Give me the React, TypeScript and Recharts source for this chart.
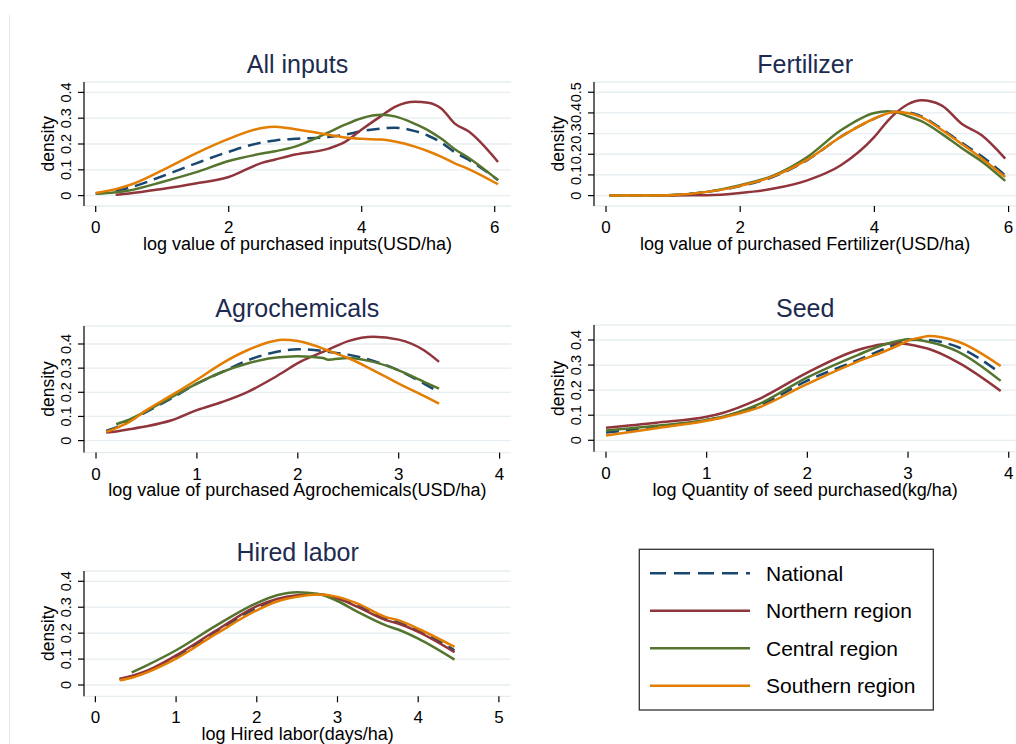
import React from 'react';
import { LineChart, Line, XAxis, YAxis, CartesianGrid } from 'recharts';

const FONT = '"Liberation Sans", Arial, Helvetica, sans-serif';

const seriesNames = ['National', 'Northern region', 'Central region', 'Southern region'];
const seriesColors = ['#1a476f', '#90353b', '#55752f', '#e37e00'];

// ---- All inputs ----
const allX = [0, 0.3, 0.5, 1, 1.5, 2, 2.5, 2.7, 3, 3.5, 3.75, 4, 4.3, 4.5, 4.8, 5, 5.2, 5.4, 5.6, 6.05];
const allNational = [0.008, 0.018, 0.03, 0.075, 0.124, 0.17, 0.206, 0.214, 0.22, 0.227, 0.236, 0.25, 0.26, 0.263, 0.25, 0.232, 0.205, 0.168, 0.14, 0.06];
const allNorthern = [null, 0.003, 0.008, 0.026, 0.047, 0.072, 0.127, 0.14, 0.159, 0.182, 0.208, 0.256, 0.31, 0.344, 0.364, 0.36, 0.337, 0.279, 0.25, 0.13];
const allCentral = [0.007, 0.013, 0.02, 0.053, 0.09, 0.134, 0.163, 0.172, 0.19, 0.245, 0.275, 0.3, 0.313, 0.307, 0.278, 0.253, 0.22, 0.18, 0.148, 0.06];
const allSouthern = [0.01, 0.025, 0.04, 0.098, 0.163, 0.22, 0.262, 0.267, 0.257, 0.236, 0.225, 0.22, 0.217, 0.21, 0.19, 0.172, 0.15, 0.125, 0.104, 0.044];

// ---- Fertilizer ----
const fertX = [0.05, 0.5, 0.8, 1, 1.5, 2, 2.5, 3, 3.5, 4, 4.2, 4.3, 4.5, 4.7, 5, 5.3, 5.6, 5.95];
const fertNational = [0, 0, 0.001, 0.003, 0.018, 0.046, 0.092, 0.172, 0.285, 0.372, 0.398, 0.404, 0.402, 0.383, 0.323, 0.256, 0.19, 0.098];
const fertNorthern = [null, null, 0, 0.001, 0.002, 0.013, 0.034, 0.074, 0.147, 0.284, 0.362, 0.394, 0.442, 0.461, 0.437, 0.348, 0.292, 0.179];
const fertCentral = [0, 0, 0.001, 0.003, 0.018, 0.05, 0.098, 0.187, 0.316, 0.4, 0.408, 0.406, 0.384, 0.36, 0.3, 0.23, 0.165, 0.071];
const fertSouthern = [0, 0, 0.001, 0.003, 0.018, 0.047, 0.094, 0.174, 0.284, 0.373, 0.398, 0.405, 0.4, 0.38, 0.319, 0.25, 0.18, 0.09];

// ---- Agrochemicals ----
const agroX = [0.1, 0.2, 0.3, 0.5, 0.75, 1, 1.25, 1.5, 1.75, 1.85, 2, 2.25, 2.3, 2.5, 2.75, 3, 3.25, 3.4];
const agroNational = [0.04, 0.055, 0.075, 0.119, 0.175, 0.236, 0.284, 0.332, 0.364, 0.372, 0.378, 0.371, 0.368, 0.356, 0.33, 0.291, 0.236, 0.2];
const agroNorthern = [0.033, 0.038, 0.045, 0.059, 0.084, 0.126, 0.16, 0.201, 0.257, 0.282, 0.321, 0.367, 0.376, 0.412, 0.43, 0.418, 0.374, 0.326];
const agroCentral = [null, 0.068, 0.082, 0.123, 0.18, 0.236, 0.284, 0.319, 0.342, 0.346, 0.349, 0.342, 0.335, 0.342, 0.326, 0.291, 0.243, 0.215];
const agroSouthern = [0.036, 0.052, 0.07, 0.126, 0.188, 0.252, 0.32, 0.374, 0.411, 0.418, 0.412, 0.381, 0.373, 0.342, 0.291, 0.236, 0.185, 0.153];

// ---- Seed ----
const seedX = [0, 0.5, 1, 1.15, 1.5, 2, 2.5, 2.75, 2.9, 3, 3.15, 3.2, 3.5, 3.92];
const seedNational = [0.031, 0.052, 0.081, 0.093, 0.134, 0.238, 0.32, 0.362, 0.387, 0.4, 0.401, 0.4, 0.371, 0.267];
const seedNorthern = [0.05, 0.07, 0.094, 0.108, 0.161, 0.27, 0.36, 0.383, 0.387, 0.383, 0.37, 0.365, 0.31, 0.197];
const seedCentral = [0.039, 0.058, 0.081, 0.093, 0.141, 0.251, 0.34, 0.38, 0.396, 0.403, 0.397, 0.393, 0.353, 0.237];
const seedSouthern = [0.019, 0.048, 0.078, 0.09, 0.128, 0.225, 0.314, 0.352, 0.378, 0.397, 0.412, 0.416, 0.393, 0.296];

// ---- Hired labor ----
const laborX = [0.3, 0.45, 0.6, 1, 1.5, 2, 2.25, 2.5, 2.75, 3, 3.25, 3.6, 3.75, 4, 4.45];
const laborNational = [0.022, 0.033, 0.048, 0.11, 0.206, 0.298, 0.328, 0.344, 0.349, 0.336, 0.306, 0.254, 0.241, 0.21, 0.134];
const laborNorthern = [0.024, 0.035, 0.05, 0.114, 0.211, 0.304, 0.332, 0.346, 0.35, 0.333, 0.301, 0.25, 0.237, 0.205, 0.127];
const laborCentral = [null, 0.048, 0.07, 0.134, 0.23, 0.316, 0.346, 0.358, 0.352, 0.324, 0.282, 0.23, 0.214, 0.179, 0.098];
const laborSouthern = [0.018, 0.028, 0.044, 0.102, 0.198, 0.288, 0.322, 0.34, 0.349, 0.34, 0.314, 0.262, 0.25, 0.217, 0.147];

const yTicks4 = [0, 0.1, 0.2, 0.3, 0.4];
const yTicks5 = [0, 0.1, 0.2, 0.3, 0.4, 0.5];
const xTicksEven = [0, 2, 4, 6];
const xTicks4 = [0, 1, 2, 3, 4];
const xTicks5 = [0, 1, 2, 3, 4, 5];

type PanelDef = {
  title: string;
  xLabel: string;
  x: number[];
  series: (number | null)[][];
  xTicks: number[];
  yTicks: number[];
  xDomain: [number, number];
  yDomain: [number, number];
  rect: { x0: number; y0: number; x1: number; y1: number };
  titleY: number;
};

const panels: PanelDef[] = [
  {
    title: 'All inputs',
    xLabel: 'log value of purchased inputs(USD/ha)',
    x: allX,
    series: [allNational, allNorthern, allCentral, allSouthern],
    xTicks: xTicksEven,
    yTicks: yTicks4,
    xDomain: [-0.176, 6.245],
    yDomain: [-0.0403, 0.4403],
    rect: { x0: 84, y0: 81.7, x1: 511, y1: 205.7 },
    titleY: 72.7,
  },
  {
    title: 'Fertilizer',
    xLabel: 'log value of purchased Fertilizer(USD/ha)',
    x: fertX,
    series: [fertNational, fertNorthern, fertCentral, fertSouthern],
    xTicks: xTicksEven,
    yTicks: yTicks5,
    xDomain: [-0.179, 6.106],
    yDomain: [-0.0503, 0.5496],
    rect: { x0: 594.3, y0: 81.7, x1: 1016, y1: 205.7 },
    titleY: 72.7,
  },
  {
    title: 'Agrochemicals',
    xLabel: 'log value of purchased Agrochemicals(USD/ha)',
    x: agroX,
    series: [agroNational, agroNorthern, agroCentral, agroSouthern],
    xTicks: xTicks4,
    yTicks: yTicks4,
    xDomain: [-0.119, 4.116],
    yDomain: [-0.0497, 0.4745],
    rect: { x0: 83.7, y0: 325.7, x1: 511, y1: 452.3 },
    titleY: 316.7,
  },
  {
    title: 'Seed',
    xLabel: 'log Quantity of seed purchased(kg/ha)',
    x: seedX,
    series: [seedNational, seedNorthern, seedCentral, seedSouthern],
    xTicks: xTicks4,
    yTicks: yTicks4,
    xDomain: [-0.119, 4.069],
    yDomain: [-0.0455, 0.4598],
    rect: { x0: 594.3, y0: 325, x1: 1016, y1: 451.7 },
    titleY: 316.7,
  },
  {
    title: 'Hired labor',
    xLabel: 'log Hired labor(days/ha)',
    x: laborX,
    series: [laborNational, laborNorthern, laborCentral, laborSouthern],
    xTicks: xTicks5,
    yTicks: yTicks4,
    xDomain: [-0.141, 5.146],
    yDomain: [-0.0436, 0.4397],
    rect: { x0: 84.3, y0: 570.7, x1: 511, y1: 696 },
    titleY: 561,
  },
];

const YW = 70;
const TOPM = 10;
const XH = 60;

const fmt = (v: number) => (v === 0 ? '0' : String(Math.round(v * 10) / 10));

const YTick = (props: any) => {
  const { x, y, payload } = props;
  return (
    <text
      x={x}
      y={y}
      transform={`rotate(-90 ${x} ${y})`}
      textAnchor="middle"
      dominantBaseline="central"
      fontFamily={FONT}
      fontSize={14.5}
      fill="#000"
    >
      {fmt(payload.value)}
    </text>
  );
};

const Panel = ({ p }: { p: PanelDef }) => {
  const pw = p.rect.x1 - p.rect.x0;
  const ph = p.rect.y1 - p.rect.y0;
  const rows = p.x.map((xv, i) => {
    const r: any = { x: xv };
    p.series.forEach((s, k) => {
      r['s' + k] = s[i];
    });
    return r;
  });
  return (
    <div style={{ position: 'absolute', left: p.rect.x0 - YW, top: p.rect.y0 - TOPM }}>
      <LineChart
        width={YW + pw}
        height={TOPM + ph + XH}
        data={rows}
        margin={{ top: TOPM, right: 0, bottom: 0, left: 0 }}
      >
        <CartesianGrid vertical={false} stroke="#e6eef1" strokeWidth={1.3} />
        <XAxis
          dataKey="x"
          type="number"
          domain={p.xDomain}
          allowDataOverflow
          ticks={p.xTicks}
          height={XH}
          axisLine={false}
          tickLine={{ stroke: '#000', strokeWidth: 1.2 }}
          tickSize={6}
          tickMargin={9}
          tick={{ fontSize: 17, fill: '#000', fontFamily: FONT }}
          interval={0}
        />
        <YAxis
          type="number"
          domain={p.yDomain}
          allowDataOverflow
          ticks={p.yTicks}
          width={YW}
          axisLine={{ stroke: '#000', strokeWidth: 1.2 }}
          tickLine={{ stroke: '#000', strokeWidth: 1.2 }}
          tickSize={6}
          tickMargin={12}
          tick={<YTick />}
          interval={0}
        />
        {p.series.map((_, k) => (
          <Line
            key={k}
            dataKey={'s' + k}
            name={seriesNames[k]}
            type="monotone"
            stroke={seriesColors[k]}
            strokeWidth={2.5}
            strokeDasharray={k === 0 ? '13 7' : undefined}
            dot={false}
            activeDot={false}
            isAnimationActive={false}
            connectNulls={false}
          />
        ))}
      </LineChart>
    </div>
  );
};

const legendRows = [573.3, 610.7, 648.3, 685.7];

export default function App() {
  return (
    <div
      style={{
        position: 'absolute',
        left: 0,
        top: 0,
        width: 1016,
        height: 744,
        background: '#fff',
        overflow: 'hidden',
        fontFamily: FONT,
      }}
    >
      {panels.map((p, i) => (
        <Panel key={i} p={p} />
      ))}
      <svg
        width={1016}
        height={744}
        style={{ position: 'absolute', left: 0, top: 0, pointerEvents: 'none' }}
      >
        <line x1={9.5} y1={15} x2={9.5} y2={744} stroke="#e3eaec" strokeWidth={1} />
        {panels.map((p, i) => {
          const cx = (p.rect.x0 + p.rect.x1) / 2;
          const cy = (p.rect.y0 + p.rect.y1) / 2;
          return (
            <g key={i}>
              <text x={cx} y={p.titleY} textAnchor="middle" fontFamily={FONT} fontSize={25} fill="#1c2b4f">
                {p.title}
              </text>
              <text x={cx} y={p.rect.y1 + 44} textAnchor="middle" fontFamily={FONT} fontSize={18} fill="#000">
                {p.xLabel}
              </text>
              <text
                x={p.rect.x0 - 36}
                y={cy}
                transform={`rotate(-90 ${p.rect.x0 - 36} ${cy})`}
                textAnchor="middle"
                dominantBaseline="central"
                fontFamily={FONT}
                fontSize={17.5}
                fill="#000"
              >
                density
              </text>
            </g>
          );
        })}
        <rect x={639.3} y={549.3} width={294} height={160.7} fill="none" stroke="#333" strokeWidth={1.3} />
        {seriesNames.map((n, k) => (
          <g key={n}>
            <line
              x1={650}
              x2={750}
              y1={legendRows[k]}
              y2={legendRows[k]}
              stroke={seriesColors[k]}
              strokeWidth={2.6}
              strokeDasharray={k === 0 ? '16 8' : undefined}
            />
            <text x={766} y={legendRows[k]} dominantBaseline="central" fontFamily={FONT} fontSize={21} fill="#000">
              {n}
            </text>
          </g>
        ))}
      </svg>
    </div>
  );
}
